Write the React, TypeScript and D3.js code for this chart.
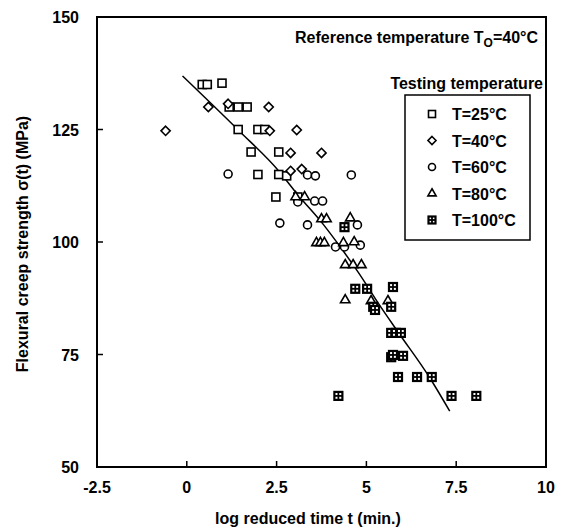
import React, { useEffect } from "react";
import * as d3 from "d3";

// log reduced time (x), flexural creep strength MPa (y)
const T25: [number, number][] = [
  [0.43, 135], [0.57, 135], [0.98, 135.3], [1.18, 130], [1.43, 130], [1.68, 130],
  [1.43, 125], [1.98, 125], [2.17, 125], [1.79, 120], [2.56, 120], [1.98, 115],
  [2.56, 115], [2.78, 114.7], [2.48, 110], [3.09, 110],
];
const T40: [number, number][] = [
  [-0.59, 124.7], [0.6, 130], [1.15, 130.7], [2.28, 130], [2.31, 124.7], [3.06, 124.9],
  [2.89, 119.8], [3.75, 119.8], [2.89, 115.8], [3.2, 116.2],
];
const T60: [number, number][] = [
  [1.15, 115.1], [3.36, 114.9], [3.58, 114.7], [4.58, 114.9], [3.09, 108.9], [3.56, 109.1],
  [3.78, 109.1], [2.59, 104.2], [3.36, 103.8], [4.75, 103.8], [4.14, 98.9], [4.39, 98.9],
  [4.83, 99.3],
];
const T80: [number, number][] = [
  [3.03, 110], [3.28, 110], [3.75, 105.1], [3.89, 105.1], [4.55, 105.3], [3.61, 99.8],
  [3.72, 99.8], [3.83, 99.8], [4.36, 99.8], [4.66, 100], [4.41, 94.9], [4.63, 94.9],
  [4.86, 94.9], [4.41, 87.1], [5.13, 86.9], [5.6, 86.9],
];
const T100: [number, number][] = [
  [4.39, 103.3], [4.69, 89.6], [5.02, 89.6], [5.74, 90], [5.19, 85.6], [5.24, 84.9],
  [5.69, 85.6], [5.69, 79.8], [5.82, 79.8], [5.96, 79.8], [5.69, 74.4], [5.74, 74.9],
  [6.02, 74.7], [5.88, 70], [6.41, 70], [6.82, 70], [4.22, 65.8], [7.37, 65.8], [8.06, 65.8],
];
const FIT: [number, number][] = [
  [-0.12, 136.9], [1.43, 124.9], [2.56, 115.8], [3.09, 110.5], [3.81, 103.8], [4.3, 98.6],
  [4.77, 93.3], [5.38, 85.8], [5.88, 80.0], [6.79, 69.5], [7.32, 62.4],
];
const X_TICKS = [-2.5, 0, 2.5, 5, 7.5, 10];
const Y_TICKS = [50, 75, 100, 125, 150];
const LEGEND = ["T=25°C", "T=40°C", "T=60°C", "T=80°C", "T=100°C"];
const SHAPES = ["square", "diamond", "circle", "triangle", "grid"];
const SERIES = [T25, T40, T60, T80, T100];

const FONT = "'Liberation Sans', Arial, Helvetica, sans-serif";

function Marker({ shape, x, y, s }: { shape: string; x: number; y: number; s: number }) {
  const h = s / 2;
  const sw = 1.6;
  if (shape === "square")
    return <rect x={x - h} y={y - h} width={s} height={s} fill="white" stroke="black" strokeWidth={sw} />;
  if (shape === "diamond") {
    const d = h * 1.15;
    return (
      <path d={`M${x},${y - d}L${x + d},${y}L${x},${y + d}L${x - d},${y}Z`} fill="white" stroke="black" strokeWidth={sw} />
    );
  }
  if (shape === "circle") return <circle cx={x} cy={y} r={h} fill="white" stroke="black" strokeWidth={sw} />;
  if (shape === "triangle") {
    const p = d3.symbol(d3.symbolTriangle, s * s * 0.6)();
    return <path d={p || ""} transform={`translate(${x},${y})`} fill="white" stroke="black" strokeWidth={sw} />;
  }
  return (
    <g>
      <rect x={x - h} y={y - h} width={s} height={s} fill="white" stroke="black" strokeWidth={2.2} />
      <line x1={x - h} x2={x + h} y1={y} y2={y} stroke="black" strokeWidth={1.8} />
      <line x1={x} x2={x} y1={y - h} y2={y + h} stroke="black" strokeWidth={1.8} />
    </g>
  );
}

export default function App() {
  useEffect(() => {
    document.body.style.margin = "0";
  }, []);
  const L = 97, R = 546, T = 17, B = 467;
  const x = d3.scaleLinear().domain([-2.5, 10]).range([L, R]);
  const y = d3.scaleLinear().domain([50, 150]).range([B, T]);
  const line = d3
    .line<[number, number]>()
    .x((d) => x(d[0]))
    .y((d) => y(d[1]))
    .curve(d3.curveMonotoneX);

  const legX = 405, legY = 95, legW = 125, legH = 145;
  return (
    <svg width={565} height={529} style={{ display: "block", background: "white" }} fontFamily={FONT} fontWeight="bold">
      <rect x={0} y={0} width={565} height={529} fill="white" />
      {/* ticks */}
      {X_TICKS.slice(1, -1).map((t) => (
        <line key={"xt" + t} x1={x(t)} x2={x(t)} y1={B} y2={B - 6} stroke="black" strokeWidth={1.5} />
      ))}
      {Y_TICKS.slice(1, -1).map((t) => (
        <line key={"yt" + t} x1={L} x2={L + 6} y1={y(t)} y2={y(t)} stroke="black" strokeWidth={1.5} />
      ))}
      {X_TICKS.map((t) => (
        <text key={"xl" + t} x={x(t)} y={B + 26} textAnchor="middle" fontSize={16}>
          {t}
        </text>
      ))}
      {Y_TICKS.map((t) => (
        <text key={"yl" + t} x={L - 18} y={y(t) + 6} textAnchor="end" fontSize={16}>
          {t}
        </text>
      ))}
      <text x={308} y={524} textAnchor="middle" fontSize={16}>
        log reduced time t (min.)
      </text>
      <text transform={`translate(28,${(T + B) / 2 + 2}) rotate(-90)`} textAnchor="middle" fontSize={16}>
        Flexural creep strength σ(t) (MPa)
      </text>
      {/* fit line */}
      <path d={line(FIT) || ""} fill="none" stroke="black" strokeWidth={1.5} />
      {/* data */}
      {SERIES.map((ser, i) =>
        ser.map((d, j) => <Marker key={i + "-" + j} shape={SHAPES[i]} x={x(d[0])} y={y(d[1])} s={8} />)
      )}
      {/* annotations */}
      <text x={538} y={43} textAnchor="end" fontSize={16}>
        Reference temperature T<tspan fontSize={12} dy={4}>O</tspan>
        <tspan dy={-4}>=40°C</tspan>
      </text>
      <text x={543} y={89} textAnchor="end" fontSize={16}>
        Testing temperature
      </text>
      <rect x={legX} y={legY} width={legW} height={legH} fill="white" stroke="black" strokeWidth={1.5} />
      {LEGEND.map((lab, i) => (
        <g key={lab}>
          <Marker shape={SHAPES[i]} x={432} y={114 + i * 26.5} s={7} />
          <text x={452} y={114 + i * 26.5 + 6} fontSize={16}>
            {lab}
          </text>
        </g>
      ))}
      {/* frame */}
      <rect x={L} y={T} width={R - L} height={B - T} fill="none" stroke="black" strokeWidth={2} />
    </svg>
  );
}
